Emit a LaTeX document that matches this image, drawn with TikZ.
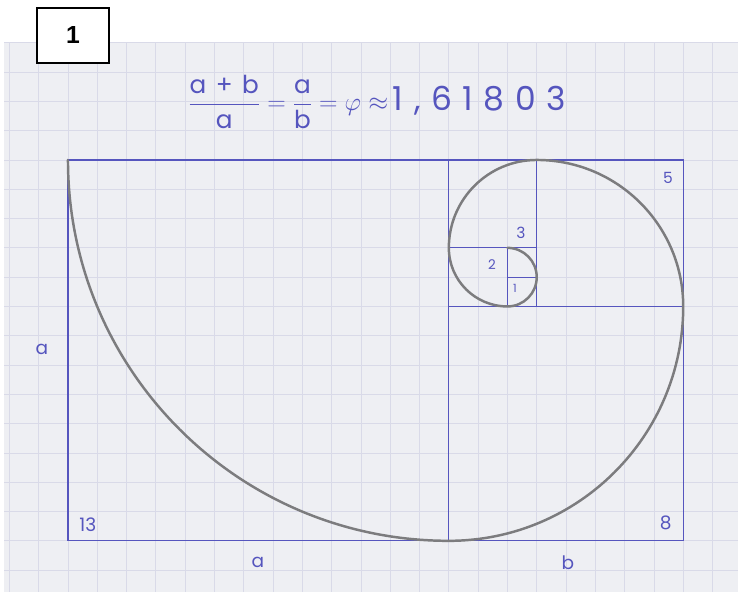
\documentclass[tikz,border=0pt]{standalone}
\usepackage{amsmath,amssymb}
\usepackage{fontspec}
\setmainfont{Poppins}
\newfontfamily\boxfont{Liberation Sans}
\newfontfamily\wide{Poppins}[LetterSpace=12]
\newfontfamily\wider{Poppins}[LetterSpace=32]
\usetikzlibrary{positioning}
\definecolor{Paper}{HTML}{EEEFF3}
\definecolor{Grid}{HTML}{D9DAE8}
\definecolor{Ink}{HTML}{5555BE}
\definecolor{Pencil}{HTML}{7C7C7E}

\begin{document}
\begin{tikzpicture}[
    gridline/.style={Grid,line width=0.8pt},
    sq/.style={Ink,line width=1.1pt},
    spiral/.style={Pencil,line width=2.4pt,line cap=round},
    lbl/.style={text=Ink,inner sep=0pt,font=\fontsize{18}{20}\selectfont},
    num/.style={text=Ink,inner sep=0pt,font=\fontsize{#1}{#1}\selectfont},
    tag/.style={draw=black,line width=1.4pt,fill=white,minimum width=2.46cm,
      minimum height=1.88cm,font=\boxfont\bfseries\fontsize{24}{24}\selectfont}
  ]
    \useasboundingbox (-2.32,-1.74) rectangle (22.87,18.46);
    % squared paper
    \fill[Paper] (-2.18,-1.74) rectangle (22.87,17.0);
    \draw[gridline] (-2.18,-1.74) grid (22.87,17.0);
    % golden rectangle split in squares
    \draw[sq] (0,0) rectangle (21,13);
    \draw[sq] (13,0) -- (13,13);
    \draw[sq] (13,8) -- (21,8);
    \draw[sq] (16,8) -- (16,13);
    \draw[sq] (13,10) -- (16,10);
    \draw[sq] (15,8) -- (15,10);
    \draw[sq] (15,9) -- (16,9);
    % spiral
    \draw[spiral] (0,13) arc[start angle=180,end angle=270,radius=13]
      arc[start angle=270,end angle=360,radius=8]
      arc[start angle=0,end angle=90,radius=5]
      arc[start angle=90,end angle=180,radius=3]
      arc[start angle=180,end angle=270,radius=2]
      arc[start angle=270,end angle=360,radius=1]
      arc[start angle=0,end angle=90,radius=1];
    % labels
    \node[tag] (title) at (0.17,17.25) {1};
    \node[text=Ink,inner sep=0pt,font=\fontsize{24}{28}\selectfont,anchor=west] (ratio) at (4.1,14.98)
      {$\dfrac{\text{\wide a + b}}{\text{a}}=\dfrac{\text{a}}{\text{b}}=\varphi\approx$};
    \node[text=Ink,inner sep=0pt,font=\wider\fontsize{32}{32}\selectfont,anchor=base west]
      (value) at ([xshift=1.5mm]ratio.base east) {1,61803};
    \node[lbl] (sideA) at (-0.89,6.52) {a};
    \node[lbl] (baseA) at (6.48,-0.72) {a};
    \node[lbl] (baseB) at (17.06,-0.75) {b};
    \foreach \n/\p/\s in {13/{0.68,0.55}/18,8/{20.4,0.61}/18,5/{20.48,12.39}/15,
      3/{15.46,10.51}/15,2/{14.47,9.42}/13,1/{15.26,8.6}/11}
      \node[num=\s] (n\n) at (\p) {\n};
  \end{tikzpicture}
\end{document}
